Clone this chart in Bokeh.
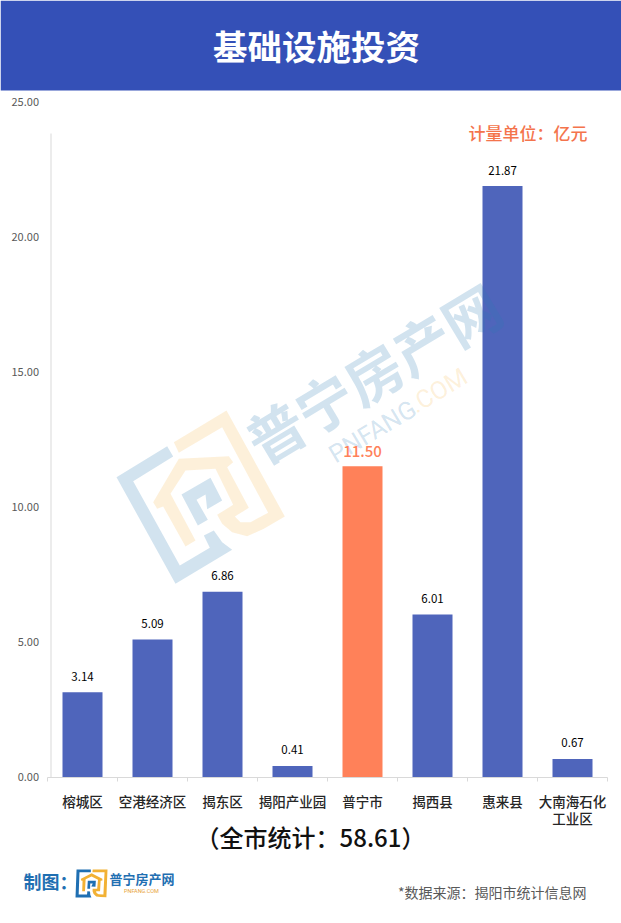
import math
from bokeh.plotting import figure
from bokeh.embed import file_html
from bokeh.resources import INLINE
from bokeh.models import Range1d, LinearAxis, FixedTicker
from bokeh.core.properties import value

categories = ["榕城区", "空港经济区", "揭东区", "揭阳产业园", "普宁市", "揭西县", "惠来县", "大南海石化\n工业区"]
values = [3.14, 5.09, 6.86, 0.41, 11.50, 6.01, 21.87, 0.67]
y_ticks = [0, 5, 10, 15, 20, 25]
highlight = "普宁市"

FONT = value("Noto Sans CJK SC")
MED = "Noto Sans CJK SC Medium"
BLUE, ORANGE = "#4F65BB", "#FF8159"

W, H = 621, 923
X0, XSTEP = 47, 70
Y0, YSCALE = 776.5, 27.02

p = figure(width=W, height=H, output_backend="svg", toolbar_location=None,
           x_range=Range1d(-X0 / XSTEP, (W - X0) / XSTEP),
           y_range=Range1d((Y0 - H) / YSCALE, Y0 / YSCALE),
           min_border=0, x_axis_type=None, y_axis_type=None, outline_line_color=None)
p.grid.visible = False
p.extra_x_ranges["px"] = Range1d(0, W)
p.extra_y_ranges["py"] = Range1d(H, 0)
PX = dict(x_range_name="px", y_range_name="py")

# header
p.quad(left=[0], right=[W], top=[0], bottom=[90], color="#3450B7", line_color=None, **PX)

# bars
xs = [i + 0.5 for i in range(len(values))]
colors = [ORANGE if c == highlight else BLUE for c in categories]
p.vbar(x=xs, top=values, bottom=0, width=40 / XSTEP, color=colors, line_color=None)

# axes
axis_color = "#D9D9D9"
YAX = (50.5 - X0) / XSTEP
p.segment(x0=[YAX], x1=[YAX], y0=[0], y1=[(Y0 - 133) / YSCALE], line_color=axis_color, line_width=1)
y_lab = LinearAxis(fixed_location=YAX, ticker=FixedTicker(ticks=y_ticks),
                   axis_line_color=None, major_tick_line_color=None, minor_tick_line_color=None,
                   major_label_overrides={t: f"{t:.2f}" for t in y_ticks},
                   major_label_text_font="Noto Sans CJK SC", major_label_text_font_size="11px",
                   major_label_text_color="#595959", major_label_standoff=6)
p.add_layout(y_lab, "left")
x_lab = LinearAxis(fixed_location=0, bounds=(0, len(values)),
                   ticker=FixedTicker(ticks=xs, minor_ticks=list(range(len(values) + 1))),
                   major_label_overrides={x: c for x, c in zip(xs, categories)},
                   axis_line_color=axis_color, major_tick_line_color=None,
                   minor_tick_line_color=axis_color, minor_tick_in=0, minor_tick_out=4,
                   major_label_text_font=MED, major_label_text_font_size="13.5px",
                   major_label_text_line_height=0.85,
                   major_label_text_color="#262626", major_label_standoff=8)
p.add_layout(x_lab, "below")

# watermark (crop coords -> page px)
def wm(points):
    return [100 + a / 3 for a, b in points], [270 + b / 3 for a, b in points]

br_out = [(48,620),(200,527),(218,558),(98,632),(238,885),(328,832),(310,795),(340,780),(365,815),(395,838),(225,940)]
br_in = [(243,672),(330,622),(365,690),(320,716),(315,672),(288,688),(322,748),(292,765)]
house = [(220,515),(378,420),(553,738),(490,775),(440,797),(395,785),(365,760),(350,733),(398,703),(345,595),
         (255,600),(210,670),(285,810),(255,828),(188,708),(170,715),(158,695),(235,565),(385,557),(398,575),
         (380,590),(445,712),(403,738),(420,755),(450,755),(503,727),(365,470),(235,547)]
WB, WO = "#2A7AB5", "#F5A623"
for pts, c, a in [(br_out, WB, 0.21), (br_in, WB, 0.21), (house, WO, 0.17)]:
    x, y = wm(pts)
    p.patch(x, y, color=c, alpha=a, line_color=None, **PX)
ang = math.radians(31)
p.text(x=[372], y=[371], text=["普宁房产网"], angle=[ang], text_font=FONT, text_font_style="bold",
       text_font_size="57px", text_color=WB, text_alpha=0.21, text_align="center", text_baseline="middle", **PX)
p.text(x=[372], y=[431], text=["PNFANG"], angle=[ang], text_font=value("Roboto"), text_font_size="25px",
       text_color=WB, text_alpha=0.21, text_align="center", text_baseline="middle", **PX)
p.text(x=[438], y=[390], text=[".COM"], angle=[ang], text_font=value("Roboto"), text_font_size="25px",
       text_color=WO, text_alpha=0.17, text_align="center", text_baseline="middle", **PX)

# value labels
for v_x, v, c in zip(xs, values, categories):
    hi = c == highlight
    p.text(x=[v_x], y=[v], text=[f"{v:.2f}"], y_offset=-15 if hi else -16,
           text_font=value(MED) if hi else FONT, text_font_size="15px" if hi else "11.5px",
           text_color=ORANGE if hi else "#000000", text_align="center", text_baseline="middle")

# texts
def t(x, y, s, size, color, align="center", bold=False, font=FONT):
    p.text(x=[x], y=[y], text=[s], text_font=font, text_font_size=size, text_color=color, text_align=align,
           text_baseline="middle", text_font_style="bold" if bold else "normal", **PX)

t(316, 44, "基础设施投资", "34.5px", "#FFFFFF", bold=True)
t(587, 132, "计量单位：亿元", "17px", "#F4744C", "right", font=value(MED))
t(310, 835.5, "（全市统计：58.61）", "24px", "#111111", font=value(MED))
t(586, 891.5, "*数据来源：揭阳市统计信息网", "14px", "#595959", "right")
t(23, 880, "制图：", "18px", "#1F6FB2", "left", bold=True)
t(109, 878, "普宁房产网", "13px", "#1F6FB2", "left", bold=True)
p.text(x=[141], y=[890], text=["PNFANG.COM"], text_font=value("Roboto"), text_font_size="5.5px",
       text_color="#E8A33A", text_align="center", text_baseline="middle", **PX)

# small logo: watermark shapes turned upright
def logo(points):
    r = math.radians(31)
    out = []
    for a, b in points:
        out.append((a * math.cos(r) - b * math.sin(r), a * math.sin(r) + b * math.cos(r)))
    return out
allp = logo(br_out + br_in + house)
minx = min(a for a, b in allp); maxx = max(a for a, b in allp)
miny = min(b for a, b in allp); maxy = max(b for a, b in allp)
for pts, c in [(br_out, "#1F6FB2"), (br_in, "#1F6FB2"), (house, "#F2B134")]:
    q = logo(pts)
    p.patch([75 + (a - minx) / (maxx - minx) * 32 for a, b in q],
            [869 + (b - miny) / (maxy - miny) * 28 for a, b in q], color=c, line_color=None, **PX)

open("out.html", "w").write(file_html(p, INLINE))
